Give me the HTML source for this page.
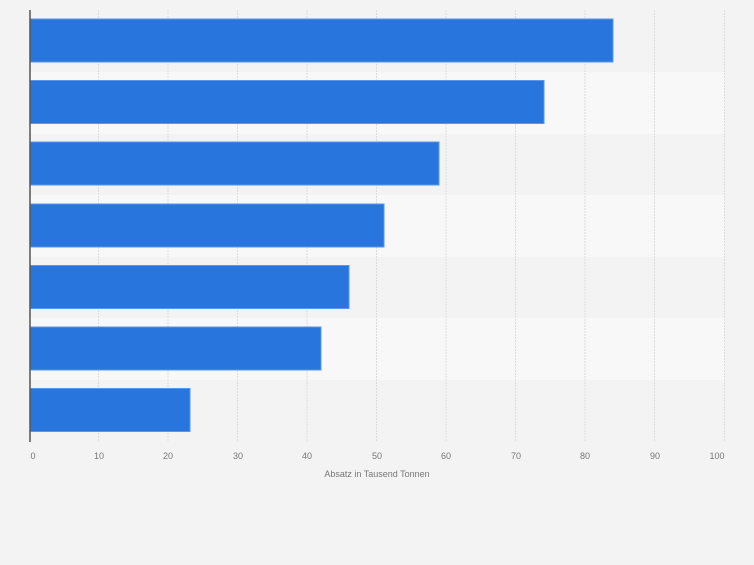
<!DOCTYPE html><html><head><style>body{margin:0;background:#f3f3f3;}</style></head><body>
<svg width="754" height="560" xmlns="http://www.w3.org/2000/svg" font-family="Liberation Sans, sans-serif">
<rect width="754" height="560" fill="#f3f3f3"/>
<rect x="30" y="72" width="695" height="62" fill="#f8f8f8"/>
<rect x="30" y="195" width="695" height="62" fill="#f8f8f8"/>
<rect x="30" y="318" width="695" height="62" fill="#f8f8f8"/>
<g stroke="#dcdcdc" stroke-dasharray="2,1">
<line x1="98.5" y1="10" x2="98.5" y2="441"/><line x1="168" y1="10" x2="168" y2="441"/><line x1="237.5" y1="10" x2="237.5" y2="441"/><line x1="307" y1="10" x2="307" y2="441"/><line x1="376.5" y1="10" x2="376.5" y2="441"/><line x1="446" y1="10" x2="446" y2="441"/><line x1="515.5" y1="10" x2="515.5" y2="441"/><line x1="585" y1="10" x2="585" y2="441"/><line x1="654.5" y1="10" x2="654.5" y2="441"/><line x1="724.5" y1="10" x2="724.5" y2="441"/>
</g>
<g fill="#2876dd" stroke="#5a97e6" stroke-width="1">
<rect x="30" y="19" width="583" height="43"/>
<rect x="30" y="80.5" width="514" height="43"/>
<rect x="30" y="142" width="409" height="43"/>
<rect x="30" y="204" width="354" height="43"/>
<rect x="30" y="265.5" width="319" height="43"/>
<rect x="30" y="327" width="291" height="43"/>
<rect x="30" y="388.5" width="160" height="43"/>
</g>
<line x1="30" y1="10" x2="30" y2="442" stroke="#555" stroke-width="1.5"/>
<g font-size="9" fill="#777" text-anchor="middle">
<text x="33" y="459">0</text><text x="99" y="459">10</text><text x="168" y="459">20</text><text x="238" y="459">30</text><text x="307" y="459">40</text><text x="377" y="459">50</text><text x="446" y="459">60</text><text x="516" y="459">70</text><text x="585" y="459">80</text><text x="655" y="459">90</text><text x="717" y="459">100</text>
<text x="377" y="477">Absatz in Tausend Tonnen</text>
</g>
</svg></body></html>
